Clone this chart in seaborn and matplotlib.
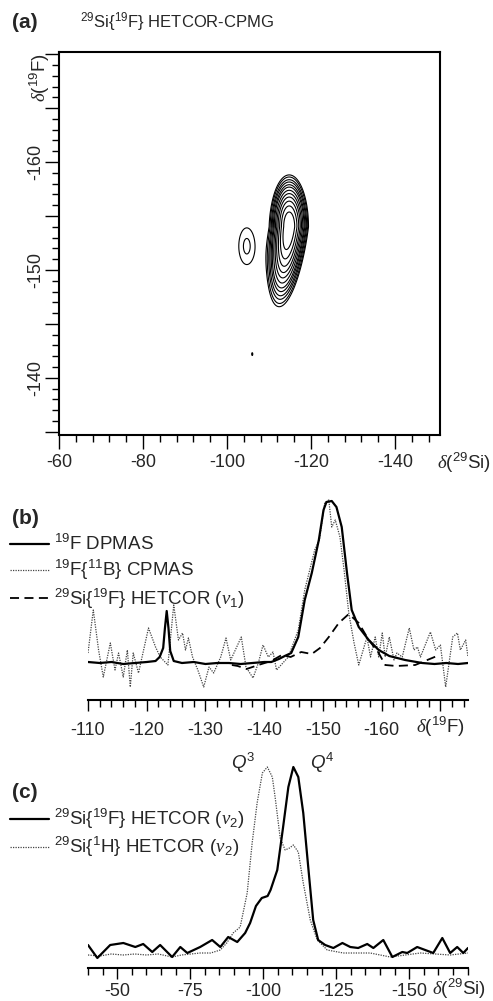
import numpy as np
import pandas as pd
import matplotlib
matplotlib.use('Agg')
import matplotlib.pyplot as plt
from matplotlib.ticker import MultipleLocator, FuncFormatter
from matplotlib.lines import Line2D
import seaborn as sns

# ---------- panel (a): 29Si{19F} HETCOR peaks ----------
peak_si = [-114.8, -104.7, -106.0]        # 29Si position (ppm)
peak_f = [-154.0, -152.2, -142.2]         # 19F position (ppm)
peak_amp = [1.0, 0.1248, 0.11]
peak_wsi = [2.14, 2.85, 0.3]              # width along 29Si
peak_wf_up = [2.24, 2.55, 0.3]            # width toward more negative 19F
peak_wf_down = [3.45, 2.55, 0.3]          # width toward less negative 19F
peak_shear = [0.32, 0.0, 0.0]
contour_levels = [0.10, 0.12, 0.15, 0.18, 0.22, 0.26, 0.32, 0.39, 0.47, 0.57, 0.69, 0.83]

# ---------- panel (b): 19F spectra ----------
dpmas_ppm = [-110, -112, -114, -116, -118, -120, -121.5, -122.2, -122.8, -123.1, -123.4, -123.7,
             -124.0, -124.6, -126, -128, -130, -132, -134, -136, -138, -140, -141.2, -142.5,
             -143.5, -144.6, -145.8, -146.9, -148.1, -149.3, -150.1, -150.6, -151.5, -152.3,
             -153.2, -154.1, -154.9, -156.1, -157.8, -159.5, -161.3, -164, -166.9, -169, -171,
             -173, -174.7]
dpmas_int = [1, 0, 1, -1, 0, 1, 2, 6, 15, 35, 52, 35, 12, 2, 0, 1, -1, 0, 0, -1, 0, 1, 1, 4,
             7, 10, 26, 63, 90, 123, 153, 161, 162, 156, 136, 90, 53, 36, 23, 13, 7, 3, 0, -1,
             0, -1, 0]

cpmas_ppm = [-110, -110.9, -111.8, -112.6, -113.8, -114.6, -115.2, -116, -116.7, -117.2, -117.7,
             -118.6, -120.3, -121.5, -122.3, -123.6, -124.6, -125.4, -126.1, -126.6, -127.1,
             -127.8, -128.7, -129.7, -130.6, -131.4, -132.6, -133.5, -134.3, -136.1, -136.9,
             -138.1, -139, -139.8, -140.7, -141.5, -142.1, -144.1, -145.8, -146.9, -148.6,
             -149.4, -150.3, -151, -151.5, -152.1, -152.9, -153.6, -154.4, -155.3, -156.1, -157,
             -157.5, -158.1, -158.9, -159.5, -160.1, -160.6, -161.3, -162.1, -162.6, -163.5,
             -164.7, -165.5, -166.1, -166.6, -168.3, -169.2, -170, -170.9, -172.1, -172.9,
             -173.4, -174.3, -174.7]
cpmas_int = [10, 53, 13, -14, 20, -7, 10, -14, 13, -24, 10, -10, 35, 16, 6, -2, 58, 23, 30, 13,
             25, 6, -7, -24, -4, -10, 6, 25, 3, 26, -4, -15, 0, 18, 6, 11, -7, 6, 33, 73, 113,
             123, 160, 163, 136, 143, 126, 93, 50, 20, -2, 16, 26, 6, 26, 6, 30, 6, 26, 3, 10, 6,
             35, 13, 16, 6, 31, 13, 18, -24, 26, 30, 13, 23, 6]

hetcor1_ppm = [-134.5, -135.5, -137, -139, -141.2, -143, -144.5, -146.3, -148.1, -149.5, -151,
               -152.7, -154.4, -156.1, -157.8, -159.5, -160.6, -162.5, -165.7, -168.6, -169.8]
hetcor1_int = [-2, -3, -6, -2, 2, 8, 6, 11, 9, 15, 26, 40, 49, 40, 23, 10, -2, -3, -2, 5, 8]

# ---------- panel (c): 29Si projections ----------
sif_ppm = [-40, -43.2, -47.6, -52.1, -56.2, -58.9, -62, -64.7, -68.8, -71.6, -74, -78.4, -82.5,
           -85.3, -88, -91.1, -93.8, -95.5, -97.5, -99.5, -101.5, -102.5, -104.8, -106.8, -108.6,
           -110.3, -112, -113.7, -115.4, -117.1, -118.8, -121.2, -124, -127.1, -129.8, -132.5,
           -135.6, -137.7, -141.1, -144.2, -147.6, -149.3, -152.7, -158.2, -161.3, -164, -166.4,
           -168.5, -170.1]
sif_int = [13, 0, 13, 15, 11, 14, 6, 13, 1, 11, 5, 11, 18, 11, 21, 16, 25, 35, 52, 60, 62, 68,
           88, 131, 171, 191, 181, 145, 91, 38, 18, 13, 10, 15, 11, 10, 14, 10, 18, 1, 6, 5, 11,
           5, 20, 5, 11, 5, 10]

sih_ppm = [-40, -44, -48, -52, -56, -60, -64, -68.8, -72, -78.4, -82, -85.3, -87.5, -89.7,
           -92.1, -94.5, -96.2, -97.9, -99.7, -101.4, -103.1, -104.1, -105.8, -107.5, -109,
           -110.3, -112, -113.7, -116.1, -118.5, -121.9, -127.4, -136.6, -143.5, -153.8, -164,
           -170.1]
sih_int = [3, 2, 4, 3, 4, 3, 4, 1, 3, 5, 5, 8, 15, 25, 31, 65, 115, 155, 185, 191, 181, 160,
           120, 108, 110, 113, 106, 75, 38, 18, 8, 5, 5, 1, 5, 3, 5]

sns.set_style('white')
plt.rcParams['font.family'] = ['Liberation Sans', 'DejaVu Sans']
plt.rcParams['mathtext.fontset'] = 'custom'
plt.rcParams['mathtext.rm'] = 'Liberation Sans'
plt.rcParams['mathtext.it'] = 'Liberation Sans:italic'
plt.rcParams['mathtext.bf'] = 'Liberation Sans:bold'
plt.rcParams['mathtext.sf'] = 'Liberation Serif:italic'

W, H = 493, 1001
FS_TICK = 13
FS_LEG = 13.5
FS_TITLE = 12
FS_DELTA = 13.5


def fx(px):
    return px / W


def fy(py):
    return 1 - py / H


fig = plt.figure(figsize=(W / 100, H / 100), dpi=100)
fig.patch.set_facecolor('white')

# ================= (a) =================
ax_a = fig.add_axes([fx(59), fy(435), 381 / W, 383 / H])
si = np.arange(-151, -59.9, 0.1)
f19 = np.arange(-171, -133.9, 0.05)
S, F = np.meshgrid(si, f19)
Z = np.zeros_like(S)
for sc, fc, a, ws, wu, wd, sh in zip(peak_si, peak_f, peak_amp, peak_wsi,
                                      peak_wf_up, peak_wf_down, peak_shear):
    dF = F - fc
    wf = np.where(dF < 0, wu, wd)
    centre = sc + sh * np.clip(dF, 0, None)
    Z += a * np.exp(-0.5 * ((S - centre) / ws) ** 2) * np.exp(-0.5 * (dF / wf) ** 2)
ax_a.contour(S, F, Z, levels=contour_levels, colors='black', linewidths=0.8)
ax_a.set_xlim(-60, -150.7)
ax_a.set_ylim(-134.7, -170.2)
ax_a.xaxis.set_major_locator(MultipleLocator(20))
ax_a.xaxis.set_minor_locator(MultipleLocator(4))
ax_a.yaxis.set_major_locator(MultipleLocator(5))
ax_a.yaxis.set_minor_locator(MultipleLocator(1))
ax_a.xaxis.set_major_formatter(FuncFormatter(lambda v, p: '%d' % v if v > -150 else ''))
ax_a.yaxis.set_major_formatter(FuncFormatter(
    lambda v, p: '%d' % v if (round(v) % 10 == 0 and v > -165) else ''))
for s in ax_a.spines.values():
    s.set_linewidth(1.5)
    s.set_color('black')
ax_a.tick_params(which='both', direction='out', width=1, color='black',
                 labelsize=FS_TICK, bottom=True, left=True, top=False, right=False)
ax_a.tick_params(which='major', length=10)
ax_a.tick_params(which='minor', length=5)
ax_a.tick_params(axis='x', which='major', pad=4)
ax_a.tick_params(axis='y', which='major', pad=0.5)
for lab in ax_a.get_yticklabels():
    lab.set_rotation(90)
    lab.set_va('center')
fig.text(fx(12), fy(22), '(a)', fontsize=15, fontweight='bold', va='center', ha='left')
fig.text(fx(80), fy(22), r'$^{29}$Si{$^{19}$F} HETCOR-CPMG', fontsize=FS_TITLE,
         va='center', ha='left')
fig.text(fx(40), fy(78), r'$\mathsf{\delta}$($^{19}$F)', fontsize=FS_DELTA, rotation=90,
         va='center', ha='center')
fig.text(fx(437), fy(463), r'$\mathsf{\delta}$($^{29}$Si)', fontsize=FS_DELTA,
         va='center', ha='left')


# ================= (b) / (c) shared axis style =================
def spectrum_axes(ax, xlim, ylim, major, minor, shown, pad):
    ax.set_xlim(*xlim)
    ax.set_ylim(*ylim)
    for k in ['left', 'right', 'top']:
        ax.spines[k].set_visible(False)
    ax.spines['bottom'].set_linewidth(1.5)
    ax.spines['bottom'].set_color('black')
    ax.set_yticks([])
    ax.set_xlabel('')
    ax.set_ylabel('')
    ax.xaxis.set_major_locator(MultipleLocator(major))
    ax.xaxis.set_minor_locator(MultipleLocator(minor))
    ax.xaxis.set_major_formatter(FuncFormatter(lambda v, p: '%d' % v if v >= shown else ''))
    ax.tick_params(axis='x', which='both', direction='out', width=1, color='black',
                   labelsize=FS_TICK, bottom=True)
    ax.tick_params(axis='x', which='major', length=8, pad=pad)
    ax.tick_params(axis='x', which='minor', length=5)
    ax.set_facecolor('none')


ax_b = fig.add_axes([fx(88), fy(700), 380 / W, 210 / H])
sns.lineplot(x=cpmas_ppm, y=cpmas_int, ax=ax_b, color='#444444', lw=0.9,
             linestyle=(0, (1, 1)), sort=False)
sns.lineplot(x=hetcor1_ppm, y=hetcor1_int, ax=ax_b, color='black', lw=1.3,
             linestyle=(0, (5, 3)), sort=False)
sns.lineplot(x=dpmas_ppm, y=dpmas_int, ax=ax_b, color='black', lw=1.6, sort=False)
spectrum_axes(ax_b, (-110, -174.7), (-37, 173), 10, 2, -165, 8)
ax_b.text(-170, -0.13, r'$\mathsf{\delta}$($^{19}$F)', transform=ax_b.get_xaxis_transform(),
          fontsize=FS_DELTA, va='center', ha='center')
fig.text(fx(12), fy(518), '(b)', fontsize=15, fontweight='bold', va='center', ha='left')
b_handles = [Line2D([], [], color='black', lw=1.6),
             Line2D([], [], color='#444444', lw=0.9, linestyle=(0, (1, 1))),
             Line2D([], [], color='black', lw=1.3, linestyle=(0, (5, 3)))]
b_labels = [r'$^{19}$F DPMAS', r'$^{19}$F{$^{11}$B} CPMAS',
            r'$^{29}$Si{$^{19}$F} HETCOR ($\mathsf{\nu}_1$)']
ax_b.legend(b_handles, b_labels, loc='upper left', bbox_to_anchor=(fx(10), fy(534)),
            bbox_transform=fig.transFigure, frameon=False, fontsize=FS_LEG, handlelength=2.1,
            handletextpad=0.25, labelspacing=0.22, borderpad=0, borderaxespad=0)

# ================= (c) =================
ax_c = fig.add_axes([fx(88), fy(968), 380 / W, 208 / H])
sns.lineplot(x=sih_ppm, y=sih_int, ax=ax_c, color='#444444', lw=0.9,
             linestyle=(0, (1, 1)), sort=False)
sns.lineplot(x=sif_ppm, y=sif_int, ax=ax_c, color='black', lw=1.6, sort=False)
spectrum_axes(ax_c, (-40, -170.1), (-10, 198), 25, 5, -150, 3)
ax_c.text(-157.8, -0.1, r'$\mathsf{\delta}$($^{29}$Si)', transform=ax_c.get_xaxis_transform(),
          fontsize=FS_DELTA, va='center', ha='left', clip_on=False)
ax_c.text(-93.2, 195, r'$Q^3$', fontsize=FS_LEG, ha='center', va='center', clip_on=False)
ax_c.text(-120.2, 195, r'$Q^4$', fontsize=FS_LEG, ha='center', va='center', clip_on=False)
fig.text(fx(12), fy(793), '(c)', fontsize=15, fontweight='bold', va='center', ha='left')
c_handles = [Line2D([], [], color='black', lw=1.6),
             Line2D([], [], color='#444444', lw=0.9, linestyle=(0, (1, 1)))]
c_labels = [r'$^{29}$Si{$^{19}$F} HETCOR ($\mathsf{\nu}_2$)',
            r'$^{29}$Si{$^{1}$H} HETCOR ($\mathsf{\nu}_2$)']
ax_c.legend(c_handles, c_labels, loc='upper left', bbox_to_anchor=(fx(10), fy(807)),
            bbox_transform=fig.transFigure, frameon=False, fontsize=FS_LEG, handlelength=2.1,
            handletextpad=0.25, labelspacing=0.22, borderpad=0, borderaxespad=0)

fig.savefig('out.png', dpi=100, facecolor='white')
